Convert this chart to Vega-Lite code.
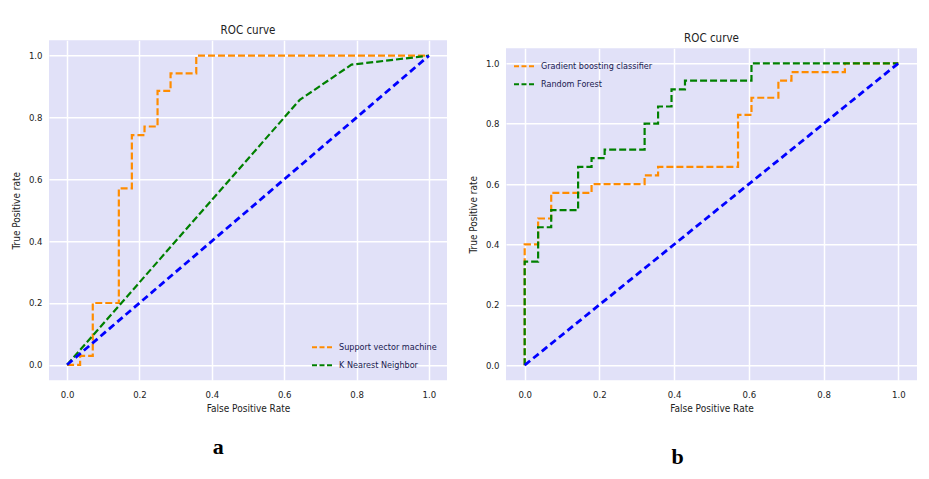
{
  "$schema": "https://vega.github.io/schema/vega-lite/v6.json",
  "padding": {"left": 11, "top": 24, "right": 5, "bottom": 3},
  "background": "white",
  "datasets": {
    "rocA": [
      {"model": "Support vector machine", "i": 0, "fpr": 0, "tpr": 0},
      {"model": "Support vector machine", "i": 1, "fpr": 0.036, "tpr": 0},
      {"model": "Support vector machine", "i": 2, "fpr": 0.036, "tpr": 0.029},
      {"model": "Support vector machine", "i": 3, "fpr": 0.071, "tpr": 0.029},
      {"model": "Support vector machine", "i": 4, "fpr": 0.071, "tpr": 0.2},
      {"model": "Support vector machine", "i": 5, "fpr": 0.143, "tpr": 0.2},
      {"model": "Support vector machine", "i": 6, "fpr": 0.143, "tpr": 0.571},
      {"model": "Support vector machine", "i": 7, "fpr": 0.179, "tpr": 0.571},
      {"model": "Support vector machine", "i": 8, "fpr": 0.179, "tpr": 0.743},
      {"model": "Support vector machine", "i": 9, "fpr": 0.214, "tpr": 0.743},
      {"model": "Support vector machine", "i": 10, "fpr": 0.214, "tpr": 0.771},
      {"model": "Support vector machine", "i": 11, "fpr": 0.25, "tpr": 0.771},
      {"model": "Support vector machine", "i": 12, "fpr": 0.25, "tpr": 0.886},
      {"model": "Support vector machine", "i": 13, "fpr": 0.286, "tpr": 0.886},
      {"model": "Support vector machine", "i": 14, "fpr": 0.286, "tpr": 0.943},
      {"model": "Support vector machine", "i": 15, "fpr": 0.357, "tpr": 0.943},
      {"model": "Support vector machine", "i": 16, "fpr": 0.357, "tpr": 1},
      {"model": "Support vector machine", "i": 17, "fpr": 1, "tpr": 1},
      {"model": "K Nearest Neighbor", "i": 0, "fpr": 0, "tpr": 0},
      {"model": "K Nearest Neighbor", "i": 1, "fpr": 0.643, "tpr": 0.857},
      {"model": "K Nearest Neighbor", "i": 2, "fpr": 0.786, "tpr": 0.971},
      {"model": "K Nearest Neighbor", "i": 3, "fpr": 1, "tpr": 1}
    ],
    "rocB": [
      {"model": "Gradient boosting classifier", "i": 0, "fpr": 0, "tpr": 0},
      {"model": "Gradient boosting classifier", "i": 1, "fpr": 0, "tpr": 0.4},
      {"model": "Gradient boosting classifier", "i": 2, "fpr": 0.036, "tpr": 0.4},
      {"model": "Gradient boosting classifier", "i": 3, "fpr": 0.036, "tpr": 0.486},
      {"model": "Gradient boosting classifier", "i": 4, "fpr": 0.071, "tpr": 0.486},
      {"model": "Gradient boosting classifier", "i": 5, "fpr": 0.071, "tpr": 0.571},
      {"model": "Gradient boosting classifier", "i": 6, "fpr": 0.179, "tpr": 0.571},
      {"model": "Gradient boosting classifier", "i": 7, "fpr": 0.179, "tpr": 0.6},
      {"model": "Gradient boosting classifier", "i": 8, "fpr": 0.321, "tpr": 0.6},
      {"model": "Gradient boosting classifier", "i": 9, "fpr": 0.321, "tpr": 0.629},
      {"model": "Gradient boosting classifier", "i": 10, "fpr": 0.357, "tpr": 0.629},
      {"model": "Gradient boosting classifier", "i": 11, "fpr": 0.357, "tpr": 0.657},
      {"model": "Gradient boosting classifier", "i": 12, "fpr": 0.571, "tpr": 0.657},
      {"model": "Gradient boosting classifier", "i": 13, "fpr": 0.571, "tpr": 0.829},
      {"model": "Gradient boosting classifier", "i": 14, "fpr": 0.607, "tpr": 0.829},
      {"model": "Gradient boosting classifier", "i": 15, "fpr": 0.607, "tpr": 0.886},
      {"model": "Gradient boosting classifier", "i": 16, "fpr": 0.679, "tpr": 0.886},
      {"model": "Gradient boosting classifier", "i": 17, "fpr": 0.679, "tpr": 0.943},
      {"model": "Gradient boosting classifier", "i": 18, "fpr": 0.714, "tpr": 0.943},
      {"model": "Gradient boosting classifier", "i": 19, "fpr": 0.714, "tpr": 0.971},
      {"model": "Gradient boosting classifier", "i": 20, "fpr": 0.857, "tpr": 0.971},
      {"model": "Gradient boosting classifier", "i": 21, "fpr": 0.857, "tpr": 1},
      {"model": "Gradient boosting classifier", "i": 22, "fpr": 1, "tpr": 1},
      {"model": "Random Forest", "i": 0, "fpr": 0, "tpr": 0},
      {"model": "Random Forest", "i": 1, "fpr": 0, "tpr": 0.343},
      {"model": "Random Forest", "i": 2, "fpr": 0.036, "tpr": 0.343},
      {"model": "Random Forest", "i": 3, "fpr": 0.036, "tpr": 0.457},
      {"model": "Random Forest", "i": 4, "fpr": 0.071, "tpr": 0.457},
      {"model": "Random Forest", "i": 5, "fpr": 0.071, "tpr": 0.514},
      {"model": "Random Forest", "i": 6, "fpr": 0.143, "tpr": 0.514},
      {"model": "Random Forest", "i": 7, "fpr": 0.143, "tpr": 0.657},
      {"model": "Random Forest", "i": 8, "fpr": 0.179, "tpr": 0.657},
      {"model": "Random Forest", "i": 9, "fpr": 0.179, "tpr": 0.686},
      {"model": "Random Forest", "i": 10, "fpr": 0.214, "tpr": 0.686},
      {"model": "Random Forest", "i": 11, "fpr": 0.214, "tpr": 0.714},
      {"model": "Random Forest", "i": 12, "fpr": 0.321, "tpr": 0.714},
      {"model": "Random Forest", "i": 13, "fpr": 0.321, "tpr": 0.8},
      {"model": "Random Forest", "i": 14, "fpr": 0.357, "tpr": 0.8},
      {"model": "Random Forest", "i": 15, "fpr": 0.357, "tpr": 0.857},
      {"model": "Random Forest", "i": 16, "fpr": 0.393, "tpr": 0.857},
      {"model": "Random Forest", "i": 17, "fpr": 0.393, "tpr": 0.914},
      {"model": "Random Forest", "i": 18, "fpr": 0.429, "tpr": 0.914},
      {"model": "Random Forest", "i": 19, "fpr": 0.429, "tpr": 0.943},
      {"model": "Random Forest", "i": 20, "fpr": 0.607, "tpr": 0.943},
      {"model": "Random Forest", "i": 21, "fpr": 0.607, "tpr": 1},
      {"model": "Random Forest", "i": 22, "fpr": 1, "tpr": 1}
    ],
    "diag": [
      {"i": 0, "fpr": 0, "tpr": 0},
      {"i": 1, "fpr": 1, "tpr": 1}
    ]
  },
  "hconcat": [
    {
      "title": {"text": ["a", ""], "lineHeight": 18, "orient": "bottom", "font": "Liberation Serif", "fontSize": 22, "fontWeight": "bold", "color": "black", "offset": 23, "dx": -11},
      "resolve": {"scale": {"color": "independent"}, "legend": {"color": "independent"}},
      "vconcat": [
        {
          "width": 398,
          "height": 340,
          "title": {"text": "ROC curve", "offset": 4},
          "resolve": {"scale": {"color": "independent"}, "legend": {"color": "independent"}},
          "layer": [
            {
              "data": {"name": "rocA"},
              "mark": {"type": "line", "strokeDash": [7, 3], "strokeWidth": 2.2, "clip": true},
              "encoding": {
                "x": {"field": "fpr", "type": "quantitative", "title": "False Positive Rate", "scale": {"domain": [-0.05, 1.05], "nice": false, "zero": false}, "axis": {"values": [0, 0.2, 0.4, 0.6, 0.8, 1.0]}},
                "y": {"field": "tpr", "type": "quantitative", "title": "True Positive rate", "scale": {"domain": [-0.05, 1.05], "nice": false, "zero": false}, "axis": {"values": [0, 0.2, 0.4, 0.6, 0.8, 1.0]}},
                "color": {"field": "model", "type": "nominal", "scale": {"domain": ["Support vector machine", "K Nearest Neighbor"], "range": ["#FF8C00", "#008000"]}, "legend": {"orient": "bottom-right", "offset": 10, "title": null}},
                "order": {"field": "i", "type": "quantitative"}
              }
            },
            {
              "data": {"name": "diag"},
              "mark": {"type": "line", "strokeDash": [7, 4], "strokeWidth": 2.8, "color": "#0000FF"},
              "encoding": {
                "x": {"field": "fpr", "type": "quantitative"},
                "y": {"field": "tpr", "type": "quantitative"},
                "order": {"field": "i", "type": "quantitative"}
              }
            }
          ]
        }
      ]
    },
    {
      "title": {"text": "b", "orient": "bottom", "font": "Liberation Serif", "fontSize": 22, "fontWeight": "bold", "color": "black", "offset": 33, "dx": -15},
      "resolve": {"scale": {"color": "independent"}, "legend": {"color": "independent"}},
      "vconcat": [
        {
          "width": 411,
          "height": 332,
          "title": {"text": "ROC curve", "offset": 4},
          "layer": [
            {
              "data": {"name": "rocB"},
              "mark": {"type": "line", "strokeDash": [7, 3], "strokeWidth": 2.2, "clip": true},
              "encoding": {
                "x": {"field": "fpr", "type": "quantitative", "title": "False Positive Rate", "scale": {"domain": [-0.05, 1.05], "nice": false, "zero": false}, "axis": {"values": [0, 0.2, 0.4, 0.6, 0.8, 1.0]}},
                "y": {"field": "tpr", "type": "quantitative", "title": "True Positive rate", "scale": {"domain": [-0.05, 1.05], "nice": false, "zero": false}, "axis": {"values": [0, 0.2, 0.4, 0.6, 0.8, 1.0]}},
                "color": {"field": "model", "type": "nominal", "scale": {"domain": ["Gradient boosting classifier", "Random Forest"], "range": ["#FF8C00", "#008000"]}, "legend": {"orient": "top-left", "offset": 7, "title": null}},
                "order": {"field": "i", "type": "quantitative"}
              }
            },
            {
              "data": {"name": "diag"},
              "mark": {"type": "line", "strokeDash": [7, 4], "strokeWidth": 2.8, "color": "#0000FF"},
              "encoding": {
                "x": {"field": "fpr", "type": "quantitative"},
                "y": {"field": "tpr", "type": "quantitative"},
                "order": {"field": "i", "type": "quantitative"}
              }
            }
          ]
        }
      ]
    }
  ],
  "spacing": 21,
  "center": true,
  "resolve": {"scale": {"color": "independent", "x": "independent", "y": "independent"}, "legend": {"color": "independent"}},
  "config": {
    "font": "'DejaVu Sans Condensed', Roboto, sans-serif",
    "view": {"fill": "#E1E1F8", "stroke": null},
    "title": {"fontSize": 11.5, "fontWeight": "normal", "color": "#222222", "anchor": "middle"},
    "axis": {
      "format": ".1f",
      "grid": true,
      "gridColor": "white",
      "gridWidth": 1.5,
      "domain": false,
      "ticks": false,
      "labelFontSize": 9.5,
      "labelColor": "#222222",
      "titleFontSize": 10,
      "titleFontWeight": "normal",
      "titleColor": "#222222"
    },
    "axisX": {"labelPadding": 9, "titlePadding": 5},
    "axisY": {"labelPadding": 7, "titlePadding": 7},
    "legend": {
      "symbolType": "stroke",
      "symbolDash": [5, 2.5],
      "symbolStrokeWidth": 2,
      "symbolSize": 400,
      "labelFontSize": 9,
      "labelOffset": 6,
      "labelColor": "#1A1A50",
      "rowPadding": 2,
      "padding": 0
    }
  }
}
